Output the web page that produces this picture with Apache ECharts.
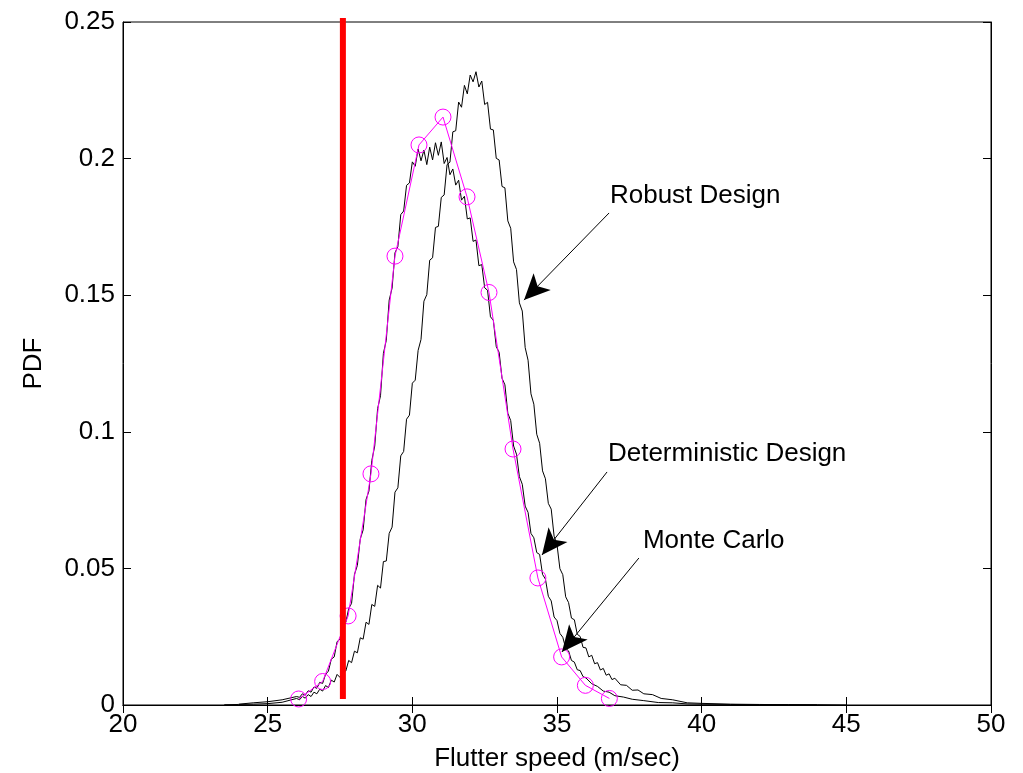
<!DOCTYPE html>
<html>
<head>
<meta charset="utf-8">
<title>Flutter speed PDF</title>
<script src="https://cdn.jsdelivr.net/npm/echarts@6/dist/echarts.min.js"></script>
<style>
  html, body { margin: 0; padding: 0; background: #fff; }
  #chart { width: 1023px; height: 773px; }
</style>
</head>
<body>
<div id="chart"></div>
<script>
// x tick labels / y tick labels
const xTicks = [20, 25, 30, 35, 40, 45, 50]
const yTicks = [0, 0.05, 0.1, 0.15, 0.2, 0.25]

// deterministic design histogram pdf [speed, pdf]
const deterministic = [
  [24.0, 0.0003], [24.5, 0.0008], [25.0, 0.0012], [25.5, 0.0019],
  [26.0, 0.0031], [26.1, 0.0028], [26.2, 0.0041], [26.3, 0.0036], [26.4, 0.0052], [26.5, 0.0047], [26.6, 0.0066], [26.7, 0.0061], [26.8, 0.0083], [26.9, 0.0079],
  [27.0, 0.0112], [27.1, 0.0124], [27.2, 0.0168], [27.3, 0.0176], [27.4, 0.0232], [27.5, 0.0241], [27.6, 0.0295], [27.7, 0.0302], [27.8, 0.0353], [27.9, 0.0372],
  [28.0, 0.0478], [28.1, 0.0511], [28.2, 0.0608], [28.3, 0.0641], [28.4, 0.0752], [28.5, 0.0783], [28.6, 0.0895], [28.7, 0.0948], [28.8, 0.1085], [28.9, 0.1132],
  [29.0, 0.1287], [29.1, 0.1335], [29.2, 0.1482], [29.3, 0.1526], [29.4, 0.1655], [29.5, 0.1678], [29.6, 0.1795], [29.7, 0.1808], [29.8, 0.1902], [29.9, 0.1911],
  [30.0, 0.1988], [30.1, 0.1972], [30.2, 0.2035], [30.3, 0.1992], [30.4, 0.2031], [30.5, 0.1978], [30.6, 0.2042], [30.7, 0.1995], [30.8, 0.2058], [30.9, 0.2012],
  [31.0, 0.2061], [31.1, 0.1982], [31.2, 0.2004], [31.3, 0.1941], [31.4, 0.1962], [31.5, 0.1903], [31.6, 0.1921], [31.7, 0.1848], [31.8, 0.1862], [31.9, 0.1779],
  [32.0, 0.1783], [32.1, 0.1697], [32.2, 0.1702], [32.3, 0.1608], [32.4, 0.1612], [32.5, 0.1527], [32.6, 0.1518], [32.7, 0.1421], [32.8, 0.1408], [32.9, 0.1312],
  [33.0, 0.1291], [33.1, 0.1196], [33.2, 0.1172], [33.3, 0.1068], [33.4, 0.1041], [33.5, 0.0948], [33.6, 0.0918], [33.7, 0.0836], [33.8, 0.0808], [33.9, 0.0728],
  [34.0, 0.0705], [34.1, 0.0628], [34.2, 0.0612], [34.3, 0.0558], [34.4, 0.0551], [34.5, 0.0478], [34.6, 0.0461], [34.7, 0.0398], [34.8, 0.0381], [34.9, 0.0322],
  [35.0, 0.0309], [35.1, 0.0262], [35.2, 0.0248], [35.3, 0.0208], [35.4, 0.0198], [35.5, 0.0163], [35.6, 0.0157], [35.7, 0.0129], [35.8, 0.0126], [35.9, 0.0104],
  [36.0, 0.0099], [36.2, 0.0078], [36.4, 0.0068], [36.6, 0.0051], [36.8, 0.0047], [37.0, 0.0034], [37.3, 0.0029], [37.6, 0.0021], [38.0, 0.0016], [38.5, 0.0009],
  [39.0, 0.0008], [39.5, 0.0004], [40.0, 0.0003], [41.0, 0.0002], [42.0, 0.0001], [43.0, 0.0001], [44.0, 0]
]

// robust design histogram pdf [speed, pdf]
const robust = [
  [23.5, 0.0001], [24.0, 0.0002], [24.5, 0.0003], [25.0, 0.0005], [25.5, 0.001],
  [26.0, 0.0024], [26.1, 0.0019], [26.2, 0.0031], [26.3, 0.0025], [26.4, 0.0038], [26.5, 0.0031], [26.6, 0.0047], [26.7, 0.0041], [26.8, 0.0058], [26.9, 0.0051],
  [27.0, 0.0071], [27.1, 0.0064], [27.2, 0.0091], [27.3, 0.0084], [27.4, 0.0112], [27.5, 0.0101], [27.6, 0.0131], [27.7, 0.0124], [27.8, 0.0163], [27.9, 0.0155],
  [28.0, 0.0197], [28.1, 0.0191], [28.2, 0.0246], [28.3, 0.0241], [28.4, 0.0303], [28.5, 0.0295], [28.6, 0.0368], [28.7, 0.0361], [28.8, 0.0438], [28.9, 0.0428],
  [29.0, 0.0525], [29.1, 0.0527], [29.2, 0.0628], [29.3, 0.0651], [29.4, 0.0779], [29.5, 0.0795], [29.6, 0.0912], [29.7, 0.0928], [29.8, 0.1046], [29.9, 0.1061],
  [30.0, 0.1178], [30.1, 0.1189], [30.2, 0.1298], [30.3, 0.1338], [30.4, 0.1478], [30.5, 0.1502], [30.6, 0.1628], [30.7, 0.1637], [30.8, 0.1748], [30.9, 0.1752],
  [31.0, 0.1858], [31.1, 0.1867], [31.2, 0.1978], [31.3, 0.1987], [31.4, 0.2098], [31.5, 0.2102], [31.6, 0.2207], [31.7, 0.2188], [31.8, 0.2268], [31.9, 0.2237],
  [32.0, 0.2306], [32.1, 0.2281], [32.2, 0.2318], [32.3, 0.2262], [32.4, 0.2284], [32.5, 0.2198], [32.6, 0.2206], [32.7, 0.2108], [32.8, 0.2105], [32.9, 0.2001],
  [33.0, 0.1995], [33.1, 0.1898], [33.2, 0.1893], [33.3, 0.1772], [33.4, 0.1745], [33.5, 0.1622], [33.6, 0.1594], [33.7, 0.1472], [33.8, 0.1442], [33.9, 0.1308],
  [34.0, 0.1262], [34.1, 0.1139], [34.2, 0.1101], [34.3, 0.0991], [34.4, 0.0958], [34.5, 0.0857], [34.6, 0.0828], [34.7, 0.0738], [34.8, 0.0717], [34.9, 0.0618],
  [35.0, 0.0587], [35.1, 0.0499], [35.2, 0.0477], [35.3, 0.0396], [35.4, 0.0375], [35.5, 0.0318], [35.6, 0.0312], [35.7, 0.0259], [35.8, 0.0251], [35.9, 0.0211],
  [36.0, 0.0209], [36.1, 0.0176], [36.2, 0.0182], [36.3, 0.0151], [36.4, 0.0155], [36.5, 0.0128], [36.6, 0.0134], [36.7, 0.0109], [36.8, 0.0114], [36.9, 0.0093],
  [37.0, 0.0098], [37.2, 0.0074], [37.4, 0.0072], [37.6, 0.0054], [37.8, 0.0055], [38.0, 0.0041], [38.3, 0.0038], [38.6, 0.0024], [39.0, 0.0019], [39.5, 0.0008],
  [40.0, 0.0006], [41.0, 0.0003], [42.0, 0.0002], [43.0, 0.0001], [44.0, 0.0001], [45.0, 0]
]

// monte carlo reference points
const mcSpeed = [26.07, 26.9, 27.78, 28.57, 29.4, 30.23, 31.06, 31.89, 32.65, 33.48, 34.34, 35.16, 35.98, 36.81]
const mcPdf = [0.0022, 0.0086, 0.0326, 0.0846, 0.1643, 0.205, 0.2152, 0.186, 0.151, 0.0937, 0.0465, 0.0176, 0.0072, 0.0024]

// red limit line
const limitSpeed = 27.6
const limitPdf = [0.0022, 0.2515]

// annotations (text, where the text sits, arrow start, arrow tip)
const annoText = ['Robust Design', 'Deterministic Design', 'Monte Carlo']
const annoAt = [[36.83, 0.1863], [36.76, 0.0919], [37.97, 0.0600]]
const annoFrom = [[36.80, 0.1801], [36.73, 0.0853], [37.83, 0.0538]]
const annoTo = [[33.86, 0.1482], [34.48, 0.0549], [35.17, 0.0194]]

const font = 'Liberation Sans, Arial, Helvetica, sans-serif'
const fs = 26

const chart = echarts.init(document.getElementById('chart'))

const axisBase = {
  type: 'value',
  axisLine: { show: true, lineStyle: { color: '#000', width: 1 } },
  axisTick: { show: true, inside: true, length: 8, lineStyle: { color: '#000' } },
  splitLine: { show: false }
}

const xAxisMain = Object.assign({}, axisBase, {
  min: xTicks[0],
  max: xTicks[xTicks.length - 1],
  interval: xTicks[1] - xTicks[0],
  position: 'bottom',
  name: 'Flutter speed (m/sec)',
  nameLocation: 'middle',
  nameGap: 41,
  nameTextStyle: { color: '#000', fontSize: fs, fontFamily: font },
  axisLabel: { color: '#000', fontSize: fs, fontFamily: font, margin: 7 }
})
const xAxisTop = Object.assign({}, axisBase, {
  min: xTicks[0],
  max: xTicks[xTicks.length - 1],
  interval: xTicks[1] - xTicks[0],
  position: 'top',
  axisLabel: { show: false }
})
const yAxisMain = Object.assign({}, axisBase, {
  min: yTicks[0],
  max: yTicks[yTicks.length - 1],
  interval: yTicks[1] - yTicks[0],
  position: 'left',
  name: 'PDF',
  nameLocation: 'middle',
  nameGap: 76,
  nameTextStyle: { color: '#000', fontSize: fs, fontFamily: font },
  axisLabel: { color: '#000', fontSize: fs, fontFamily: font, margin: 8 }
})
const yAxisRight = Object.assign({}, axisBase, {
  min: yTicks[0],
  max: yTicks[yTicks.length - 1],
  interval: yTicks[1] - yTicks[0],
  position: 'right',
  axisLabel: { show: false }
})

const arrows = annoText.map((t, i) => [{ coord: annoFrom[i] }, { coord: annoTo[i] }])
const labels = annoText.map((t, i) => ({
  coord: annoAt[i],
  symbol: 'circle',
  symbolSize: 0,
  label: {
    show: true,
    position: 'right',
    distance: 0,
    formatter: t,
    color: '#000',
    fontSize: fs,
    fontFamily: font
  }
}))

const option = {
  animation: false,
  backgroundColor: '#fff',
  grid: {
    left: 123,
    right: 32,
    top: 22,
    bottom: 68,
    outerBoundsMode: 'none',
    show: true,
    borderColor: '#000',
    borderWidth: 1,
    backgroundColor: 'transparent'
  },
  xAxis: [xAxisMain, xAxisTop],
  yAxis: [yAxisMain, yAxisRight],
  series: [
    {
      name: 'Deterministic Design',
      type: 'line',
      data: deterministic,
      symbol: 'none',
      lineStyle: { color: '#000', width: 1 },
      z: 2
    },
    {
      name: 'Robust Design',
      type: 'line',
      data: robust,
      symbol: 'none',
      lineStyle: { color: '#000', width: 1 },
      z: 2
    },
    {
      name: 'Monte Carlo',
      type: 'line',
      data: mcSpeed.map((s, i) => [s, mcPdf[i]]),
      symbol: 'circle',
      symbolSize: 16,
      showAllSymbol: true,
      lineStyle: { color: '#ff00ff', width: 1 },
      itemStyle: { color: 'rgba(0,0,0,0)', borderColor: '#ff00ff', borderWidth: 1 },
      z: 3
    },
    {
      name: 'limit',
      type: 'line',
      data: limitPdf.map((p) => [limitSpeed, p]),
      symbol: 'none',
      clip: false,
      lineStyle: { color: '#ff0000', width: 6, cap: 'butt' },
      z: 4
    },
    {
      // only for the arrows + text
      name: 'notes',
      type: 'line',
      data: [],
      silent: true,
      markLine: {
        silent: true,
        symbol: ['none', 'arrow'],
        symbolSize: [18, 26],
        label: { show: false },
        lineStyle: { color: '#000', width: 1, type: 'solid' },
        itemStyle: { color: '#000' },
        data: arrows
      },
      markPoint: {
        silent: true,
        data: labels
      },
      z: 5
    }
  ]
}

chart.setOption(option)
</script>
</body>
</html>
